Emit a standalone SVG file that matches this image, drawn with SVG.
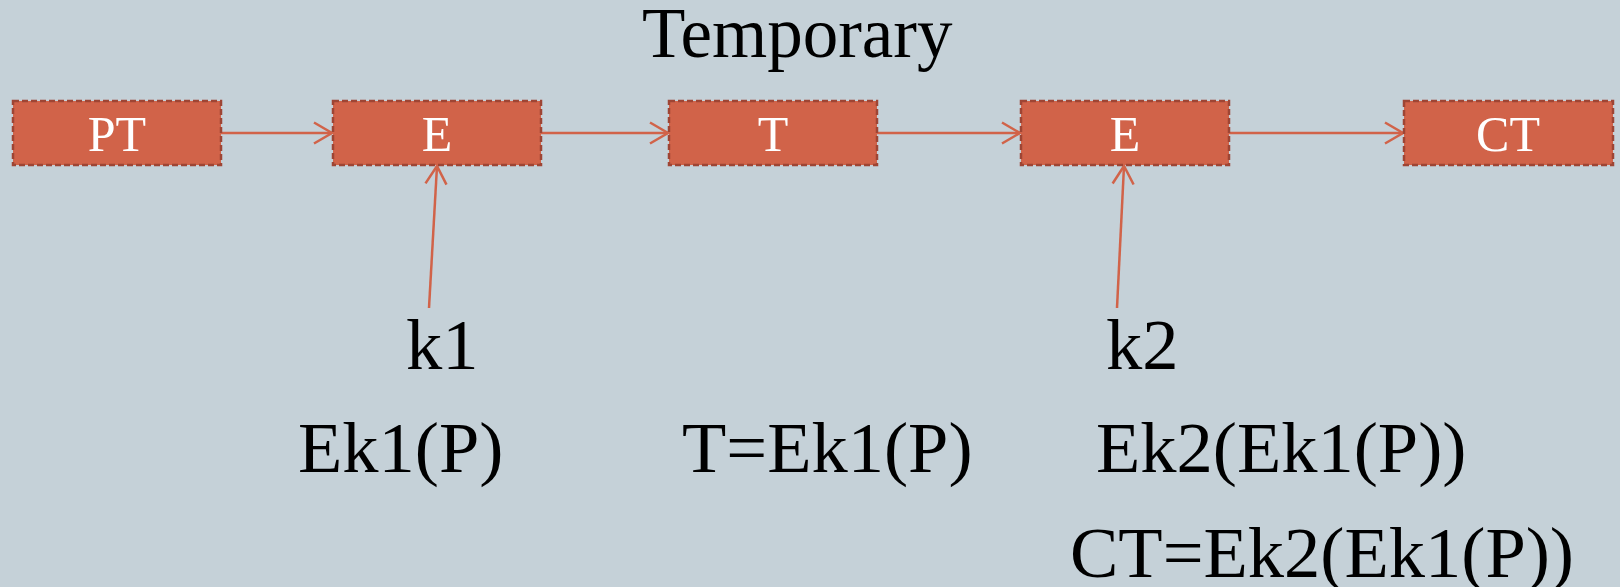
<svg xmlns="http://www.w3.org/2000/svg" width="1620" height="587" viewBox="0 0 1620 587">
  <style>
    .box { fill: #D16349; stroke: #9E4534; stroke-width: 2.5; stroke-dasharray: 6 3; }
    .lbl { font-family: "Liberation Serif", "Times New Roman", serif; font-size: 50px; fill: #FFFFFF; text-anchor: middle; }
    .txt { font-family: "Liberation Serif", "Times New Roman", serif; font-size: 72.5px; fill: #000000; }
    .title { font-size: 71px; }
    .conn { stroke: #D16349; stroke-width: 2.5; fill: none; marker-end: url(#arrow); }
  </style>
  <defs>
    <marker id="arrow" markerUnits="userSpaceOnUse" markerWidth="24" markerHeight="26" refX="20" refY="12" orient="auto">
      <path d="M 2 1.5 L 20 12 L 2 22.5" fill="none" stroke="#D16349" stroke-width="2.5"/>
    </marker>
  </defs>

  <rect width="1620" height="587" fill="#C5D1D8"/>

  <!-- connectors -->
  <g id="connectors">
    <line class="conn" x1="221" y1="133" x2="332" y2="133"/>
    <line class="conn" x1="541" y1="133" x2="668" y2="133"/>
    <line class="conn" x1="877" y1="133" x2="1020" y2="133"/>
    <line class="conn" x1="1229" y1="133" x2="1403" y2="133"/>
    <line class="conn" x1="429" y1="308" x2="437" y2="166"/>
    <line class="conn" x1="1117" y1="308" x2="1124" y2="166"/>
  </g>

  <!-- nodes -->
  <g id="node-pt">
    <rect class="box" x="13" y="101" width="208" height="64"/>
    <text class="lbl" x="117" y="151">PT</text>
  </g>
  <g id="node-e1">
    <rect class="box" x="333" y="101" width="208" height="64"/>
    <text class="lbl" x="437" y="151">E</text>
  </g>
  <g id="node-t">
    <rect class="box" x="669" y="101" width="208" height="64"/>
    <text class="lbl" x="773" y="151">T</text>
  </g>
  <g id="node-e2">
    <rect class="box" x="1021" y="101" width="208" height="64"/>
    <text class="lbl" x="1125" y="151">E</text>
  </g>
  <g id="node-ct">
    <rect class="box" x="1404" y="101" width="209" height="64"/>
    <text class="lbl" x="1508" y="151">CT</text>
  </g>

  <!-- annotations -->
  <g id="labels">
    <text class="txt title" x="642" y="57">Temporary</text>
    <text class="txt" x="406" y="369">k1</text>
    <text class="txt" x="1106" y="369">k2</text>
    <text class="txt" x="298" y="472">Ek1(P)</text>
    <text class="txt" x="682" y="472">T=Ek1(P)</text>
    <text class="txt" x="1096" y="472">Ek2(Ek1(P))</text>
    <text class="txt" x="1070" y="577">CT=Ek2(Ek1(P))</text>
  </g>
</svg>
